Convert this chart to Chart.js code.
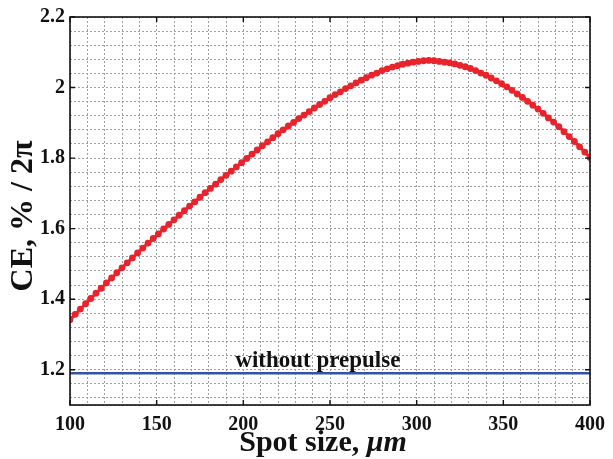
<!DOCTYPE html>
<html lang="en">
<head>
    <meta charset="UTF-8">
    <title>Conversion efficiency vs spot size</title>
    <script src="https://cdn.jsdelivr.net/npm/chart.js"></script>
    <style>
        html, body { margin: 0; padding: 0; background: #fff; }
        #wrap { width: 613px; height: 459px; }
    </style>
</head>
<body>
    <div id="wrap"><canvas id="ceChart"></canvas></div>

    <script>
        // spot size, um (one point every 3 um)
        const spotSize = [
            100, 103, 106, 109, 112, 115, 118, 121, 124, 127,
            130, 133, 136, 139, 142, 145, 148, 151, 154, 157,
            160, 163, 166, 169, 172, 175, 178, 181, 184, 187,
            190, 193, 196, 199, 202, 205, 208, 211, 214, 217,
            220, 223, 226, 229, 232, 235, 238, 241, 244, 247,
            250, 253, 256, 259, 262, 265, 268, 271, 274, 277,
            280, 283, 286, 289, 292, 295, 298, 301, 304, 307,
            310, 313, 316, 319, 322, 325, 328, 331, 334, 337,
            340, 343, 346, 349, 352, 355, 358, 361, 364, 367,
            370, 373, 376, 379, 382, 385, 388, 391, 394, 397,
            400
        ];
        // CE, % / 2pi with prepulse
        const ceValues = [
            1.342, 1.357, 1.372, 1.387, 1.402, 1.417, 1.431, 1.446, 1.460, 1.475,
            1.489, 1.503, 1.517, 1.531, 1.545, 1.559, 1.572, 1.585, 1.599, 1.612,
            1.625, 1.638, 1.651, 1.664, 1.676, 1.689, 1.702, 1.714, 1.726, 1.739,
            1.751, 1.763, 1.775, 1.787, 1.799, 1.811, 1.823, 1.835, 1.846, 1.858,
            1.869, 1.880, 1.891, 1.901, 1.912, 1.922, 1.932, 1.942, 1.952, 1.961,
            1.971, 1.980, 1.988, 1.997, 2.005, 2.013, 2.021, 2.028, 2.035, 2.041,
            2.048, 2.053, 2.058, 2.062, 2.066, 2.069, 2.072, 2.074, 2.076, 2.077,
            2.076, 2.074, 2.072, 2.070, 2.067, 2.063, 2.059, 2.054, 2.048, 2.041,
            2.035, 2.027, 2.019, 2.011, 2.002, 1.992, 1.982, 1.972, 1.961, 1.950,
            1.939, 1.927, 1.914, 1.902, 1.889, 1.875, 1.861, 1.847, 1.832, 1.817,
            1.802
        ];
        // level without prepulse
        const noPrepulseX = [100, 400];
        const noPrepulseY = [1.19, 1.19];
        const noPrepulseLabel = "without prepulse";

        const xTickLabels = [100, 150, 200, 250, 300, 350, 400];
        const yTickLabels = [1.2, 1.4, 1.6, 1.8, 2, 2.2];
        const xRange = [100, 400], xGridStep = 10;
        const yRange = [1.1, 2.2], yGridStep = 0.04;

        const serif = "'Liberation Serif', 'Times New Roman', serif";

        function gridTicks(min, max, step) {
            const out = [];
            const first = Math.ceil(min / step - 1e-9) * step;
            if (first - min > 1e-9) out.push({ value: min });
            for (let v = first; v <= max + 1e-9; v += step) out.push({ value: +v.toFixed(4) });
            return out;
        }
        const isLabel = (list, v) => list.some(t => Math.abs(t - v) < 1e-6);

        // frame, inward ticks, axis titles and the in-plot label
        const framePlugin = {
            id: "frame",
            afterDraw(chart) {
                const { ctx, chartArea: a, scales: { x, y } } = chart;
                ctx.save();
                ctx.strokeStyle = "#111";
                ctx.lineWidth = 1.6;
                ctx.strokeRect(a.left, a.top, a.right - a.left, a.bottom - a.top);

                ctx.lineWidth = 1.4;
                ctx.beginPath();
                xTickLabels.forEach(v => {
                    const px = x.getPixelForValue(v);
                    ctx.moveTo(px, a.bottom); ctx.lineTo(px, a.bottom - 5);
                    ctx.moveTo(px, a.top); ctx.lineTo(px, a.top + 5);
                });
                yTickLabels.forEach(v => {
                    const py = y.getPixelForValue(v);
                    ctx.moveTo(a.left, py); ctx.lineTo(a.left + 5, py);
                    ctx.moveTo(a.right, py); ctx.lineTo(a.right - 5, py);
                });
                ctx.stroke();

                ctx.fillStyle = "#111";
                // in-plot label above the flat line
                ctx.font = "bold 23px " + serif;
                ctx.textAlign = "center";
                ctx.textBaseline = "alphabetic";
                ctx.fillText(noPrepulseLabel, x.getPixelForValue(243), y.getPixelForValue(noPrepulseY[0]) - 6);

                // x title with italic unit
                const t1 = "Spot size, ", t2 = "\u03bcm";
                const f1 = "bold 30px " + serif, f2 = "italic bold 30px " + serif;
                ctx.font = f1; const w1 = ctx.measureText(t1).width;
                ctx.font = f2; const w2 = ctx.measureText(t2).width;
                const cx = 323;
                const sx = cx - (w1 + w2) / 2;
                ctx.textAlign = "left";
                ctx.font = f1; ctx.fillText(t1, sx, 451);
                ctx.font = f2; ctx.fillText(t2, sx + w1, 451);

                // y title
                ctx.translate(24, 216);
                ctx.rotate(-Math.PI / 2);
                ctx.textAlign = "center";
                ctx.textBaseline = "middle";
                ctx.font = "bold 32px " + serif;
                ctx.fillText("CE, % / 2\u03c0", 0, 0);
                ctx.restore();
            }
        };

        const ctx = document.getElementById("ceChart").getContext("2d");
        new Chart(ctx, {
            type: "scatter",
            data: {
                datasets: [
                    {
                        label: "with prepulse",
                        data: spotSize.map((s, i) => ({ x: s, y: ceValues[i] })),
                        showLine: true,
                        borderColor: "#e8232b",
                        backgroundColor: "#e8232b",
                        borderWidth: 3,
                        pointRadius: 3.4,
                        pointBorderWidth: 0
                    },
                    {
                        label: noPrepulseLabel,
                        data: noPrepulseX.map((s, i) => ({ x: s, y: noPrepulseY[i] })),
                        showLine: true,
                        borderColor: "#3552a3",
                        borderWidth: 2.5,
                        pointRadius: 0
                    }
                ]
            },
            options: {
                responsive: true,
                maintainAspectRatio: false,
                animation: false,
                layout: { padding: { top: 15, right: 22, left: 0, bottom: 0 } },
                plugins: { legend: { display: false }, tooltip: { enabled: false } },
                scales: {
                    x: {
                        type: "linear",
                        min: xRange[0],
                        max: xRange[1],
                        afterBuildTicks: s => { s.ticks = gridTicks(xRange[0], xRange[1], xGridStep); },
                        afterFit: s => { s.height = 54; },
                        grid: { color: "#a0a0a0", lineWidth: 1, drawTicks: false },
                        border: { display: false, dash: [2, 2] },
                        ticks: {
                            color: "#111",
                            padding: 8,
                            autoSkip: false,
                            maxRotation: 0,
                            font: { family: serif, size: 20, weight: "bold" },
                            callback: v => isLabel(xTickLabels, v) ? String(Math.round(v)) : ""
                        }
                    },
                    y: {
                        type: "linear",
                        min: yRange[0],
                        max: yRange[1],
                        afterBuildTicks: s => { s.ticks = gridTicks(yRange[0], yRange[1], yGridStep); },
                        afterFit: s => { s.width = 70; },
                        grid: { color: "#a0a0a0", lineWidth: 1, drawTicks: false },
                        border: { display: false, dash: [2, 2] },
                        ticks: {
                            color: "#111",
                            padding: 5,
                            autoSkip: false,
                            font: { family: serif, size: 20, weight: "bold" },
                            callback: v => isLabel(yTickLabels, v) ? String(+v.toFixed(2)) : ""
                        }
                    }
                }
            },
            plugins: [framePlugin]
        });
    </script>
</body>
</html>
